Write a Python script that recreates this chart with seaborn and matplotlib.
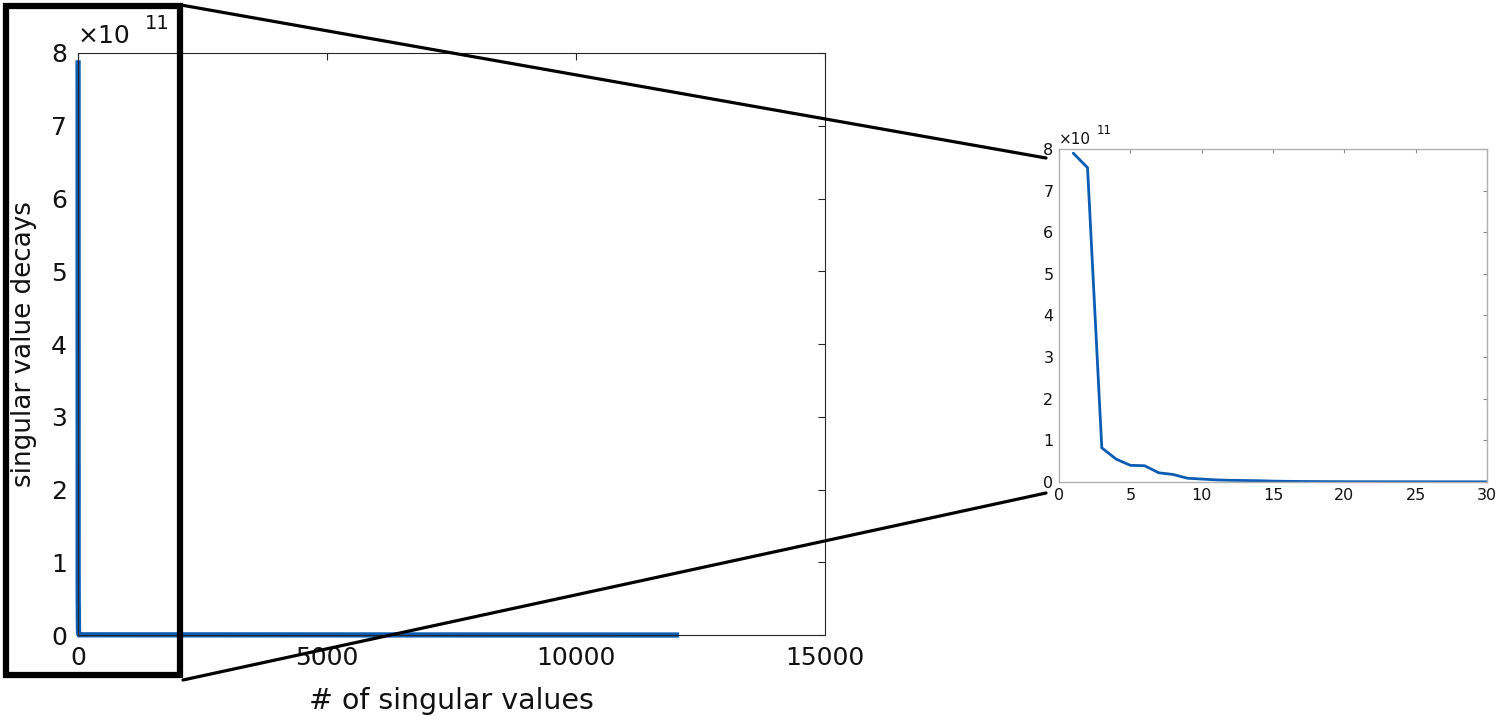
import numpy as np
import pandas as pd
import matplotlib
matplotlib.use("Agg")
import matplotlib.pyplot as plt
from matplotlib.lines import Line2D
from matplotlib.patches import Rectangle
import seaborn as sns

# ---- data (singular values, units of 1e11) ----
index_head = list(range(1, 31))
sv_head = [7.90, 7.55, 0.82, 0.55, 0.40, 0.39, 0.22, 0.18, 0.09, 0.07,
           0.05, 0.04, 0.035, 0.03, 0.02, 0.015, 0.012, 0.010, 0.008, 0.007,
           0.006, 0.006, 0.005, 0.005, 0.005, 0.004, 0.004, 0.004, 0.004, 0.003]
index_tail = [12070]
sv_tail = [0.0]

main_xticks = [0, 5000, 10000, 15000]
main_yticks = [0, 1, 2, 3, 4, 5, 6, 7, 8]
inset_xticks = [0, 5, 10, 15, 20, 25, 30]
xlabel = "# of singular values"
ylabel = "singular value decays"
exp_text = "11"

LINE = "#0B5DB4"
AX = "#262626"

sns.set_theme(style="white")
plt.rcParams["font.family"] = ["DejaVu Sans"]

df_all = pd.DataFrame({"k": index_head + index_tail, "s": sv_head + sv_tail})
df_head = pd.DataFrame({"k": index_head, "s": sv_head})

fig = plt.figure(figsize=(15, 7.24), dpi=100)

# main axes
ax = fig.add_axes([0.052, 0.1229, 0.498, 0.8039])
sns.lineplot(data=df_all, x="k", y="s", ax=ax, color=LINE, linewidth=3.8,
             solid_capstyle="butt")
for ln in ax.lines:
    ln.set_clip_on(False)
ax.set_xlim(0, 15000)
ax.set_ylim(0, 8)
ax.set_xticks(main_xticks)
ax.set_yticks(main_yticks)
ax.tick_params(direction="in", length=5, width=0.8, color=AX, labelsize=18,
               labelcolor="#111111", top=True, right=True, pad=8)
for s in ax.spines.values():
    s.set_visible(True)
    s.set_color(AX)
    s.set_linewidth(0.8)
ax.set_xlabel(xlabel, fontsize=20.5, color="#111111", labelpad=12)
ax.set_ylabel(ylabel, fontsize=18.8, color="#111111", labelpad=10)
ax.text(0.0, 1.008, "\u00d710", transform=ax.transAxes, fontsize=18,
        ha="left", va="bottom", color="#111111")
ax.text(0.089, 1.035, exp_text, transform=ax.transAxes, fontsize=14,
        ha="left", va="bottom", color="#111111")

# inset axes
axi = fig.add_axes([0.706, 0.3343, 0.2853, 0.4599])
sns.lineplot(data=df_head, x="k", y="s", ax=axi, color=LINE, linewidth=2.0)
axi.set_xlim(0, 30)
axi.set_ylim(0, 8)
axi.set_xticks(inset_xticks)
axi.set_yticks(main_yticks)
axi.tick_params(direction="in", length=3, width=0.8, color="#8a8a8a",
                labelsize=11.5, labelcolor="#111111", top=True, right=True, pad=4)
for s in axi.spines.values():
    s.set_visible(True)
    s.set_color("#b0b0b0")
    s.set_linewidth(1.0)
axi.set_xlabel("")
axi.set_ylabel("")
axi.text(0.0, 1.005, "\u00d710", transform=axi.transAxes, fontsize=11,
         ha="left", va="bottom", color="#111111")
axi.text(0.088, 1.035, exp_text, transform=axi.transAxes, fontsize=8.5,
         ha="left", va="bottom", color="#111111")

# zoom box and connectors (figure pixel -> fraction)
W, H = 1500.0, 724.0
def fx(px):
    return px / W
def fy(py):
    return 1 - py / H

fig.add_artist(Rectangle((fx(6), fy(675)), fx(180) - fx(6), fy(6) - fy(675),
                         transform=fig.transFigure, fill=False,
                         edgecolor="black", linewidth=4.5, zorder=10))
fig.add_artist(Line2D([fx(181), fx(1046)], [fy(5), fy(158)],
                      transform=fig.transFigure, color="black", linewidth=2.3))
fig.add_artist(Line2D([fx(183), fx(1046)], [fy(680), fy(493)],
                      transform=fig.transFigure, color="black", linewidth=2.3))

fig.savefig("out.png", dpi=100, facecolor="white")
